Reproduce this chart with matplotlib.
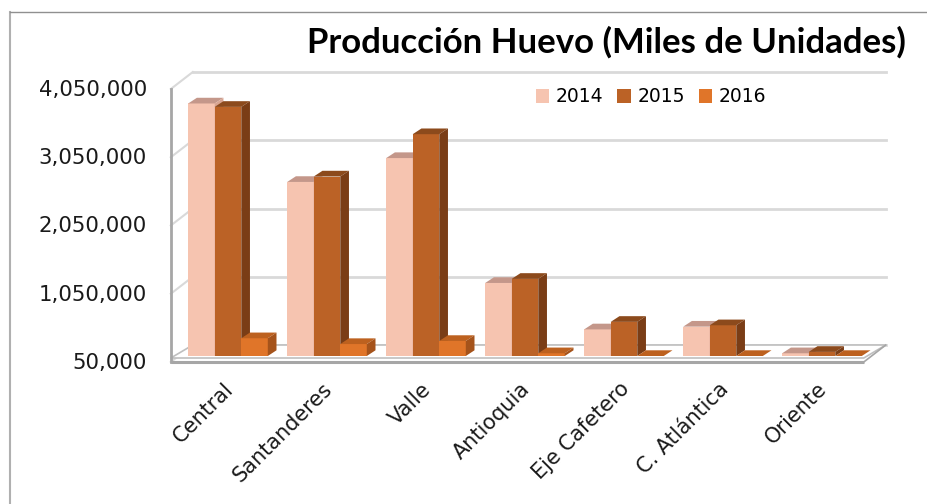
import numpy as np
import matplotlib.pyplot as plt
from matplotlib.patches import Polygon, Rectangle, Patch
from matplotlib.lines import Line2D
from matplotlib.transforms import ScaledTranslation

# ---------------------------------------------------------------
#   Datos (miles de unidades)
# ---------------------------------------------------------------
regiones = ['Central', 'Santanderes', 'Valle', 'Antioquia',
            'Eje Cafetero', 'C. Atlántica', 'Oriente']
anios = ['2014', '2015', '2016']
prod_2014 = [3750000, 2600000, 2950000, 1120000, 440000, 480000, 90000]
prod_2015 = [3700000, 2680000, 3300000, 1180000, 550000, 500000, 110000]
prod_2016 = [310000, 225000, 270000, 90000, 40000, 40000, 35000]
yticks = [50000, 1050000, 2050000, 3050000, 4050000]

# colores: cara frontal, tapa, lateral
colores = [('#F6C4B0', '#C4978A', '#D8A592'),
           ('#BB6226', '#8C4A1C', '#7A3D16'),
           ('#E07529', '#BD611F', '#A5531B')]

W, H = 927, 504
fig = plt.figure(figsize=(W / 100, H / 100), dpi=100)
ax = fig.add_axes([178.5 / W, 148 / H, 693 / W, 273 / H])
ax.set_xlim(-0.5, 6.5)
ax.set_ylim(yticks[0], yticks[-1])
ax.axis('off')
base = yticks[0]

# pixeles -> unidades de datos
sx = 7.0 / 693
sy = (yticks[-1] - yticks[0]) / 273.0
Fx, Fy = -7.7 * sx, -6 * sy      # plano frontal
Bx, By = 14.3 * sx, 11 * sy      # pared del fondo
ddx, ddy = 8.7 * sx, 5.7 * sy    # profundidad de cada barra
grid_c = '#D9D9D9'

def px(dx, dy):
    return ScaledTranslation(dx / 100, dy / 100, fig.dpi_scale_trans)

# piso
floor = Polygon([(-0.5 + Fx, base + Fy + 4 * sy), (6.5 + Fx, base + Fy + 4 * sy),
                 (6.5 + Bx, base + By), (-0.5 + Bx, base + By)],
                closed=True, facecolor='white', edgecolor='#BFBFBF', lw=1.2,
                clip_on=False, zorder=1)
ax.add_patch(floor)
ax.plot([-0.5 + Fx, 6.5 + Fx], [base + Fy, base + Fy], color='#A6A6A6', lw=2.2,
        clip_on=False, zorder=1, solid_capstyle='butt')
ax.plot([6.5 + Fx, 6.5 + Bx], [base + Fy, base + By], color='#A6A6A6', lw=1.2,
        clip_on=False, zorder=1)

# rejilla: pared del fondo y pared lateral
for t in yticks:
    ax.plot([-0.5 + Bx, 6.5 + Bx], [t + By, t + By], color=grid_c, lw=2,
            clip_on=False, zorder=0)
    ax.plot([-0.5 + Fx, -0.5 + Bx], [t + Fy, t + By], color=grid_c, lw=1.5,
            clip_on=False, zorder=0)
    ax.text(-0.5 + Fx, t + Fy, f'{t:,}', transform=ax.transData + px(-24, -1),
            ha='right', va='center', fontsize=15.3, color='#1A1A1A')

# eje vertical frontal
ax.plot([-0.5 + Fx, -0.5 + Fx], [base + Fy, yticks[-1] + Fy], color='#A6A6A6',
        lw=2, clip_on=False, zorder=1)

# barras pseudo 3D
w = 0.268
series = [prod_2014, prod_2015, prod_2016]
for i in range(len(regiones)):
    for k, serie in enumerate(series):
        cf, ct, cs = colores[k]
        x0 = i + (k - 1.5) * w
        top = max(serie[i], base)
        z = 2 + i * 3 + k
        ax.add_patch(Rectangle((x0, base), w, top - base, facecolor=cf,
                               edgecolor='none', clip_on=False, zorder=z))
        ax.add_patch(Polygon([(x0, top), (x0 + w, top), (x0 + w + ddx, top + ddy),
                              (x0 + ddx, top + ddy)], closed=True, facecolor=ct,
                             edgecolor='none', clip_on=False, zorder=z))
        ax.add_patch(Polygon([(x0 + w, base), (x0 + w + ddx, base + ddy),
                              (x0 + w + ddx, top + ddy), (x0 + w, top)], closed=True,
                             facecolor=cs, edgecolor='none', clip_on=False, zorder=z))

# etiquetas de categorias
for i, r in enumerate(regiones):
    ax.text(i, base, r, transform=ax.transData + px(2, -30), rotation=45,
            rotation_mode='anchor', ha='right', va='center', fontsize=15,
            color='#1A1A1A')

# leyenda
handles = [Patch(facecolor=colores[k][0], edgecolor='none', label=anios[k])
           for k in range(3)]
fig.legend(handles=handles, loc='center', bbox_to_anchor=(651 / W, 1 - 97 / H),
           ncol=3, frameon=False, fontsize=13.5, handlelength=0.7,
           handleheight=0.7, handletextpad=0.35, columnspacing=0.75)

# titulo
fig.text(606 / W, 1 - 42 / H, 'Producción Huevo (Miles de Unidades)',
         ha='center', va='center', fontsize=25, fontweight='bold',
         family='Lato', color='black')

# marco
fig.add_artist(Line2D([10 / W, 10 / W], [0, 1 - 12 / H], color='#B0B0B0', lw=1.5))
fig.add_artist(Line2D([10 / W, 1], [1 - 12 / H, 1 - 12 / H], color='#909090', lw=1))

fig.savefig('out.png', dpi=100)
